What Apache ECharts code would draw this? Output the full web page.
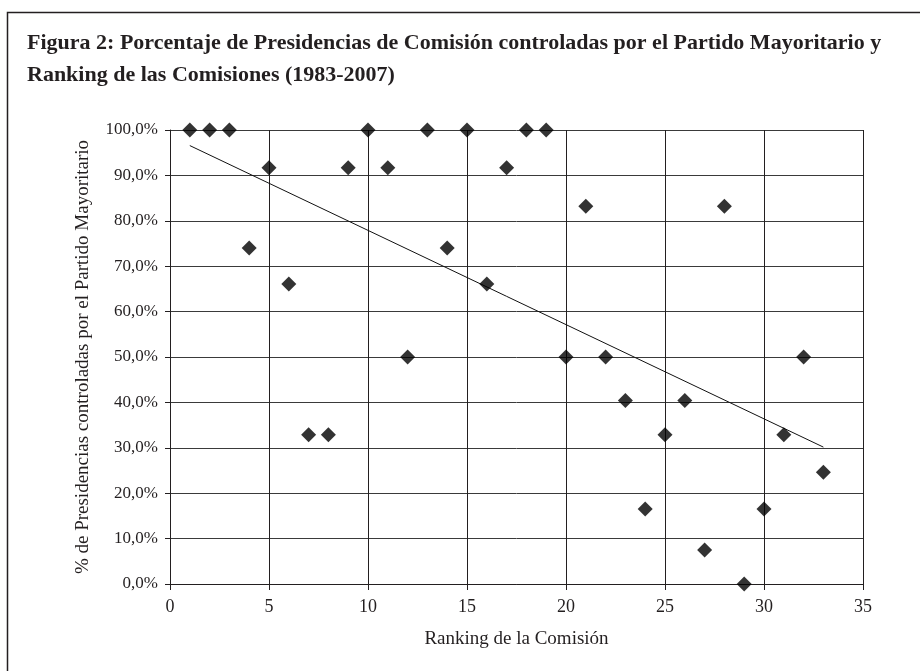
<!DOCTYPE html>
<html>
<head>
<meta charset="utf-8">
<script src="https://cdn.jsdelivr.net/npm/echarts@6/dist/echarts.min.js"></script>
<style>
  html, body { margin: 0; padding: 0; background: #fff; }
  #chart { width: 920px; height: 671px; }
</style>
</head>
<body>
<div id="chart"></div>
<script>
// Ranking of each committee (1 = most important)
const ranking = [1, 2, 3, 4, 5, 6, 7, 8, 9, 10, 11, 12, 13, 14, 15, 16, 17,
  18, 19, 20, 21, 22, 23, 24, 25, 26, 27, 28, 29, 30, 31, 32, 33];
// Share of committee chairs held by the majority party (%)
const pctMayoritario = [100, 100, 100, 74.0, 91.7, 66.1, 32.9, 32.9, 91.7, 100,
  91.7, 50, 100, 74.0, 100, 66.1, 91.7, 100, 100, 50, 83.2, 50, 40.4, 16.5,
  32.9, 40.4, 7.5, 83.2, 0, 16.5, 32.9, 50, 24.6];

const xTicks = { min: 0, max: 35, interval: 5 };
const yTicks = { min: 0, max: 100, interval: 10 };

const FONT = 'Liberation Serif';
const INK = '#231f20';

// Least-squares linear trend over the scatter points
function linearFit(xs, ys) {
  const n = xs.length;
  const mx = xs.reduce((a, b) => a + b, 0) / n;
  const my = ys.reduce((a, b) => a + b, 0) / n;
  let sxy = 0, sxx = 0;
  for (let i = 0; i < n; i++) {
    sxy += (xs[i] - mx) * (ys[i] - my);
    sxx += (xs[i] - mx) * (xs[i] - mx);
  }
  const b = sxy / sxx;
  return x => my + b * (x - mx);
}
const fit = linearFit(ranking, pctMayoritario);
const xFirst = Math.min(...ranking), xLast = Math.max(...ranking);
const trendData = [[xFirst, fit(xFirst)], [xLast, fit(xLast)]];

const points = ranking.map((r, i) => [r, pctMayoritario[i]]);

const chart = echarts.init(document.getElementById('chart'), null, { renderer: 'canvas' });
chart.setOption({
  backgroundColor: '#fff',
  animation: false,
  title: {
    text: 'Figura 2: Porcentaje de Presidencias de Comisión controladas por el Partido Mayoritario y\nRanking de las Comisiones (1983-2007)',
    left: 27,
    top: 27,
    padding: 0,
    textStyle: {
      fontFamily: FONT,
      fontWeight: 'bold',
      fontSize: 22,
      lineHeight: 32,
      color: INK
    }
  },
  graphic: [{
    type: 'rect',
    shape: { x: 7.5, y: 12.5, width: 940, height: 700 },
    style: { fill: 'none', stroke: INK, lineWidth: 1.5 },
    silent: true,
    z: -1
  }],
  grid: { left: 170, top: 130, right: 57, bottom: 87, containLabel: false },
  xAxis: {
    type: 'value',
    min: xTicks.min,
    max: xTicks.max,
    interval: xTicks.interval,
    name: 'Ranking de la Comisión',
    nameLocation: 'middle',
    nameGap: 46,
    nameTextStyle: { fontFamily: FONT, fontSize: 19, color: INK },
    axisLine: { show: true, lineStyle: { color: INK, width: 1 } },
    axisTick: { show: true, inside: false, length: 6, lineStyle: { color: INK } },
    axisLabel: { fontFamily: FONT, fontSize: 18, color: INK, margin: 14 },
    splitLine: { show: true, lineStyle: { color: INK, width: 1 } }
  },
  yAxis: {
    type: 'value',
    min: yTicks.min,
    max: yTicks.max,
    interval: yTicks.interval,
    name: '% de Presidencias controladas por el Partido Mayoritario',
    nameLocation: 'middle',
    nameGap: 77,
    nameRotate: 90,
    nameTextStyle: { fontFamily: FONT, fontSize: 19, color: INK },
    axisLine: { show: true, lineStyle: { color: INK, width: 1 } },
    axisTick: { show: true, inside: false, length: 5, lineStyle: { color: INK } },
    axisLabel: {
      fontFamily: FONT, fontSize: 17, color: INK, margin: 12,
      formatter: v => v.toFixed(1).replace('.', ',') + '%'
    },
    splitLine: { show: true, lineStyle: { color: '#3a3a3a', width: 1 } }
  },
  series: [
    {
      type: 'scatter',
      data: points,
      symbol: 'diamond',
      symbolSize: 15,
      itemStyle: { color: '#000' },
      z: 3
    },
    {
      type: 'line',
      data: trendData,
      symbol: 'none',
      lineStyle: { color: '#111', width: 1 },
      z: 2
    }
  ]
});
</script>
</body>
</html>
